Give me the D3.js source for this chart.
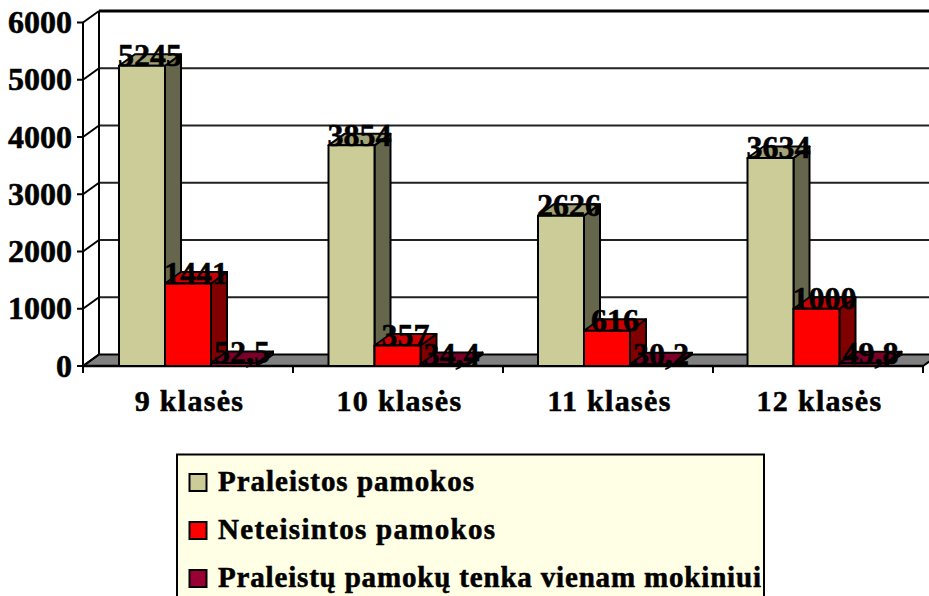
<!DOCTYPE html>
<html><head><meta charset="utf-8">
<script src="https://cdn.jsdelivr.net/npm/d3@7"></script>
<style>html,body{margin:0;padding:0;background:#fff;overflow:hidden}svg{display:block}text{font-family:"Liberation Serif",serif;font-weight:bold;fill:#000;stroke:#000;stroke-width:.55px}</style>
</head><body><script>
const categories=["9 klasės","10 klasės","11 klasės","12 klasės"];
const seriesNames=["Praleistos pamokos","Neteisintos pamokos","Praleistų pamokų tenka vienam mokiniui"];
const praleistos=[5245,3854,2626,3634];
const neteisintos=[1441,357,616,1000];
const vienam=[52.5,34.4,30.2,49.8];
const labels=[["5245","3854","2626","3634"],["1441","357","616","1000"],["52,5","34,4","30,2","49,8"]];
const yTicks=[0,1000,2000,3000,4000,5000,6000];
const front=["#cccc99","#ff0000","#990033"],side=["#66664d","#800000","#4d001a"],top_=["#a3a37a","#cc0000","#7a0029"];
const W=929,H=596,dx=16,dy=-11.5;
const y=d3.scaleLinear().domain([0,6000]).range([366,22.5]);
const x=d3.scaleBand().domain(categories).range([83,923]);
const xBars=d3.scaleBand().domain(categories).range([83,921]);
const sub=d3.scaleBand().domain([0,1,2]).range([36,174]);
const legendWidths=[256,277,543];
const svg=d3.select("body").append("svg").attr("width",W).attr("height",H);
const L=x.range()[0],R=x.range()[1];
svg.append("polygon").attr("points",[[L,y(0)],[L+dx,y(0)+dy],[R+dx,y(0)+dy],[R,y(0)]].join(" ")).attr("fill","#808080").attr("stroke","#000").attr("stroke-width",2);
yTicks.forEach(t=>{
 const yy=y(t);
 if(t>0)svg.append("line").attr("x1",L+dx).attr("x2",W).attr("y1",yy+dy).attr("y2",yy+dy).attr("stroke",t==6000?"#000":"#222").attr("stroke-width",t==6000?3:2);
 svg.append("line").attr("x1",L).attr("x2",L+dx).attr("y1",yy).attr("y2",yy+dy).attr("stroke","#000").attr("stroke-width",2);
 svg.append("line").attr("x1",L-6).attr("x2",L).attr("y1",yy).attr("y2",yy).attr("stroke","#000").attr("stroke-width",2);
 svg.append("text").attr("x",72).attr("y",yy+10.5).attr("text-anchor","end").attr("font-size",32).text(t);
});
svg.append("line").attr("x1",L+dx).attr("x2",L+dx).attr("y1",y(0)+dy).attr("y2",y(6000)+dy).attr("stroke","#000").attr("stroke-width",2);
svg.append("line").attr("x1",L).attr("x2",L).attr("y1",y(0)+7).attr("y2",y(6000)).attr("stroke","#000").attr("stroke-width",2);
svg.append("line").attr("x1",L).attr("x2",R).attr("y1",y(0)).attr("y2",y(0)).attr("stroke","#000").attr("stroke-width",2.5);
d3.range(5).forEach(i=>{const px=L+i*x.step();svg.append("line").attr("x1",px).attr("x2",px).attr("y1",y(0)).attr("y2",y(0)+7).attr("stroke","#000").attr("stroke-width",2);});
const series=[praleistos,neteisintos,vienam];
categories.forEach((c,ci)=>{
 series.forEach((vals,si)=>{
  const x0=xBars(c)+sub(si),x1=x0+sub.bandwidth(),y0=y(0),y1=y(vals[ci]);
  const g=svg.append("g").attr("stroke","#000").attr("stroke-width",2).attr("stroke-linejoin","round");
  g.append("polygon").attr("points",[[x1,y0],[x1+dx,y0+dy],[x1+dx,y1+dy],[x1,y1]].join(" ")).attr("fill",side[si]);
  g.append("polygon").attr("points",[[x0,y1],[x0+dx,y1+dy],[x1+dx,y1+dy],[x1,y1]].join(" ")).attr("fill",top_[si]);
  g.append("rect").attr("x",x0).attr("y",y1).attr("width",x1-x0).attr("height",y0-y1).attr("fill",front[si]);
 });
});
categories.forEach((c,ci)=>{
 series.forEach((vals,si)=>{
  const x0=xBars(c)+sub(si);
  svg.append("text").attr("x",x0+sub.bandwidth()/2+8).attr("y",y(vals[ci])+dy+12).attr("text-anchor","middle").attr("font-size",32).text(labels[si][ci]);
 });
 svg.append("text").attr("x",x(c)+x.bandwidth()/2+1.5).attr("y",411).attr("text-anchor","middle").attr("font-size",30).attr("letter-spacing",1.3).text(c);
});
svg.append("rect").attr("x",177).attr("y",454.5).attr("width",587).attr("height",160).attr("fill","#ffffe5").attr("stroke","#000").attr("stroke-width",2);
seriesNames.forEach((n,i)=>{
 const ly=482+i*48;
 svg.append("rect").attr("x",189.5).attr("y",ly-8).attr("width",17).attr("height",17).attr("fill",front[i]).attr("stroke","#000").attr("stroke-width",2);
 svg.append("text").attr("x",218).attr("y",ly+9).attr("font-size",29).attr("textLength",legendWidths[i]).attr("lengthAdjust","spacing").text(n);
});
</script></body></html>
